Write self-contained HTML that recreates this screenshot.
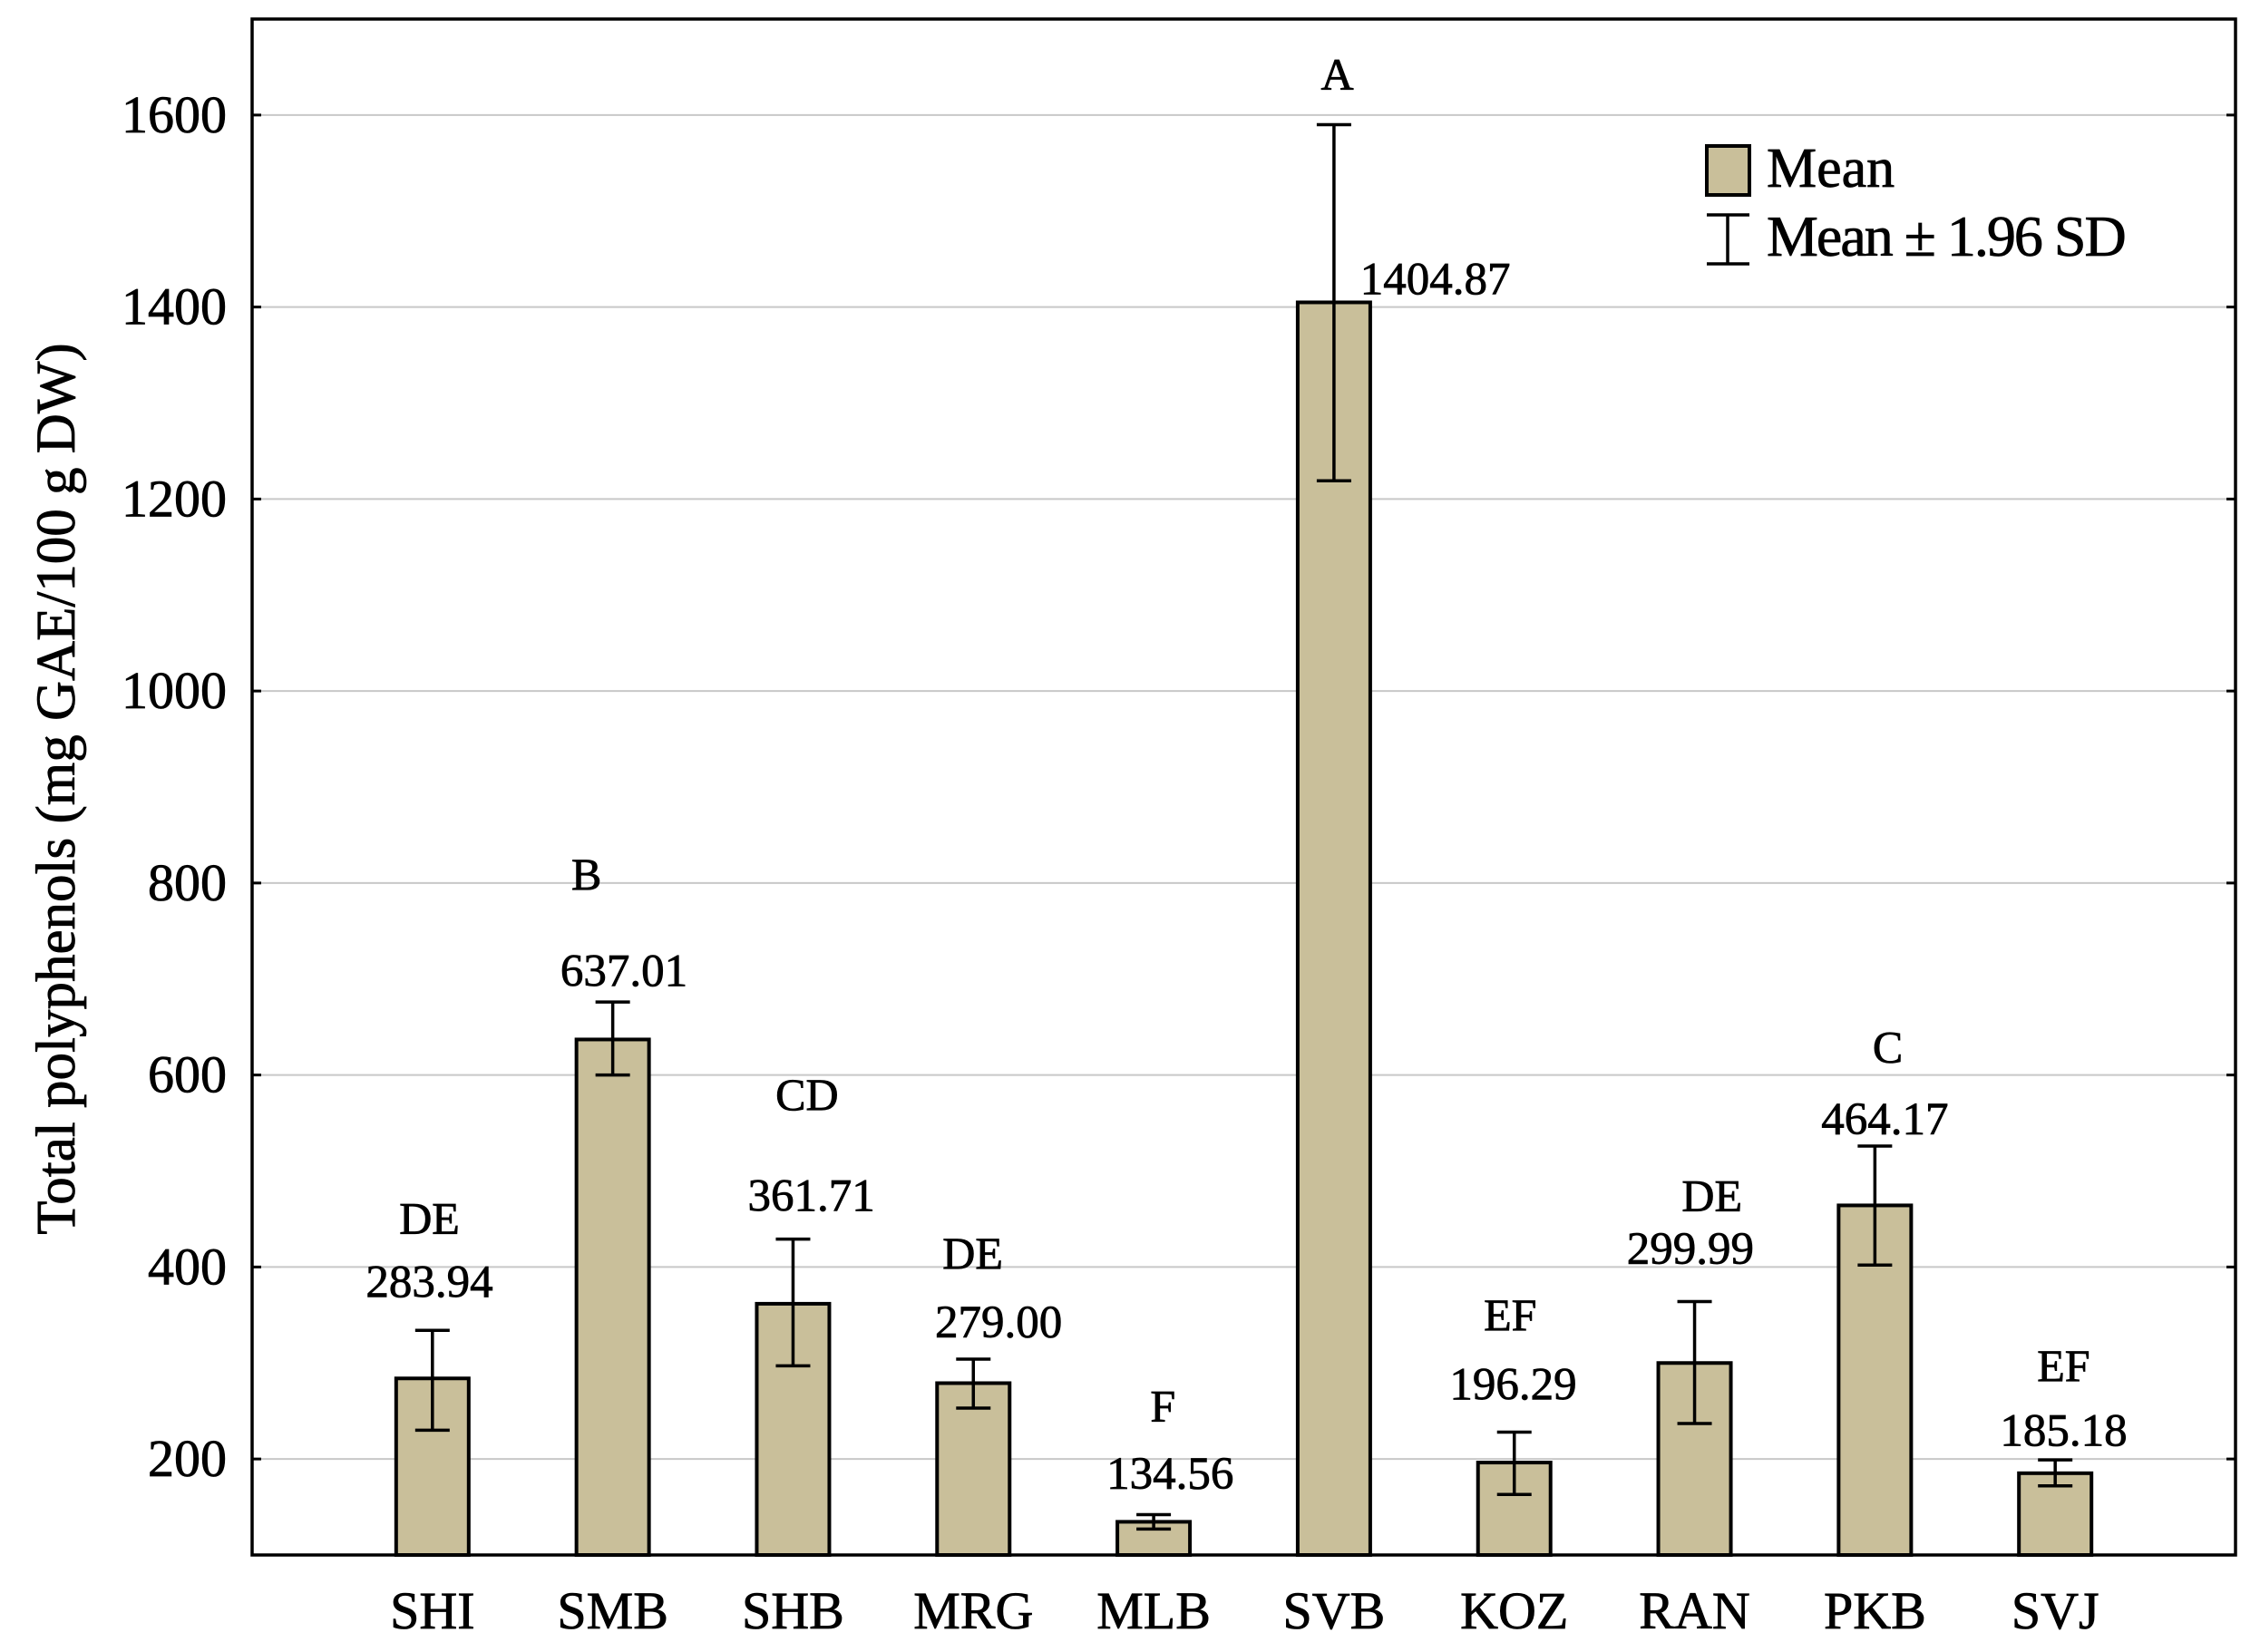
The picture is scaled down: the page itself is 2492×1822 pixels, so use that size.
<!DOCTYPE html>
<html><head><meta charset="utf-8"><style>
html,body{margin:0;padding:0;background:#fff}
svg{display:block;font-family:"Liberation Serif",serif}
text{stroke:#000;stroke-width:0.8px}
</style></head><body>
<svg id="chart" width="2492" height="1822" viewBox="0 0 2492 1822" xmlns="http://www.w3.org/2000/svg">
<text transform="translate(82,870) rotate(-90)" text-anchor="middle" font-size="61" fill="#000">Total polyphenols (mg GAE/100 g DW)</text>
<g>
<rect x="1882" y="161" width="47" height="54" fill="#c9bf9a" stroke="#000" stroke-width="4"/>
<text x="1948" y="206" font-size="62">Mean</text>
<path d="M1882 237H1929M1905 237V291M1882 291H1929" stroke="#000" stroke-width="3.5" fill="none"/>
<text x="1948" y="282" font-size="64" letter-spacing="-2">Mean ± 1.96 SD</text>
</g>
</svg>
<script>
const categories=["SHI","SMB","SHB","MRG","MLB","SVB","KOZ","RAN","PKB","SVJ"];
const means=[283.94,637.01,361.71,279.00,134.56,1404.87,196.29,299.99,464.17,185.18];
const upper=[334,676,429,304,142,1590,228,364,526,199];
const lower=[230,600,297,253,127,1219,163,237,402,172];
const groups=["DE","B","CD","DE","F","A","EF","DE","C","EF"];
const valueLabels=["283.94","637.01","361.71","279.00","134.56","1404.87","196.29","299.99","464.17","185.18"];
const yTicks=[200,400,600,800,1000,1200,1400,1600];
// label layout (pixel positions, display scale) – not data
const S=1.589;
const grpPos=[[298,845],[407,606],[560,759],[675,869],[807,975],[928,51],[1048,912],[1188,829],[1310,726],[1432,947]];
const valPos=[[298,889],[433,673],[563,829],[693,917],[812,1022],[996,193],[1050,960],[1173,866],[1308,776],[1432,992]];

const NS="http://www.w3.org/2000/svg";
const svg=document.getElementById('chart');
const L=278,R=2465,T=21,B=1715,yMin=100,yMax=1700;
const y=v=>B-(v-yMin)/(yMax-yMin)*(B-T);
const step=(R-L)/(categories.length+1);
const x=i=>L+step*(i+1);
const bw=80;
function mk(tag,attrs){const e=document.createElementNS(NS,tag);for(const k in attrs)e.setAttribute(k,attrs[k]);svg.appendChild(e);return e;}
yTicks.forEach(t=>{
  const g=mk('line',{x1:L,x2:R,y1:y(t),y2:y(t),stroke:'#c8c8c8','stroke-width':2});
  
  
  const tk=mk('path',{d:`M${L} ${y(t)}h10M${R} ${y(t)}h-10`,stroke:'#000','stroke-width':3});
  
  
  const lb=mk('text',{x:250,y:y(t)+19,'text-anchor':'end','font-size':58});
  lb.textContent=t;
  
  
});
const frame=mk('rect',{x:L,y:T,width:R-L,height:B-T,fill:'none',stroke:'#000','stroke-width':3.5});


categories.forEach((c,i)=>{
  const cx=x(i);
  const bar=mk('rect',{x:cx-bw/2,y:y(means[i]),width:bw,height:B-y(means[i]),fill:'#c9bf9a',stroke:'#000','stroke-width':4});
  
  
  const eb=mk('path',{d:`M${cx-19} ${y(upper[i])}h38M${cx} ${y(upper[i])}V${y(lower[i])}M${cx-19} ${y(lower[i])}h38`,stroke:'#000','stroke-width':3.5,fill:'none'});
  
  
  const cl=mk('text',{x:cx,y:1796,'text-anchor':'middle','font-size':58});
  cl.textContent=c;
  
  
  const gl=mk('text',{x:grpPos[i][0]*S,y:grpPos[i][1]*S+18,'text-anchor':'middle','font-size':50});
  gl.textContent=groups[i];
  
  
  const vl=mk('text',{x:valPos[i][0]*S,y:valPos[i][1]*S+18,'text-anchor':'middle','font-size':51});
  vl.textContent=valueLabels[i];
  
  
});
</script>
</body></html>
